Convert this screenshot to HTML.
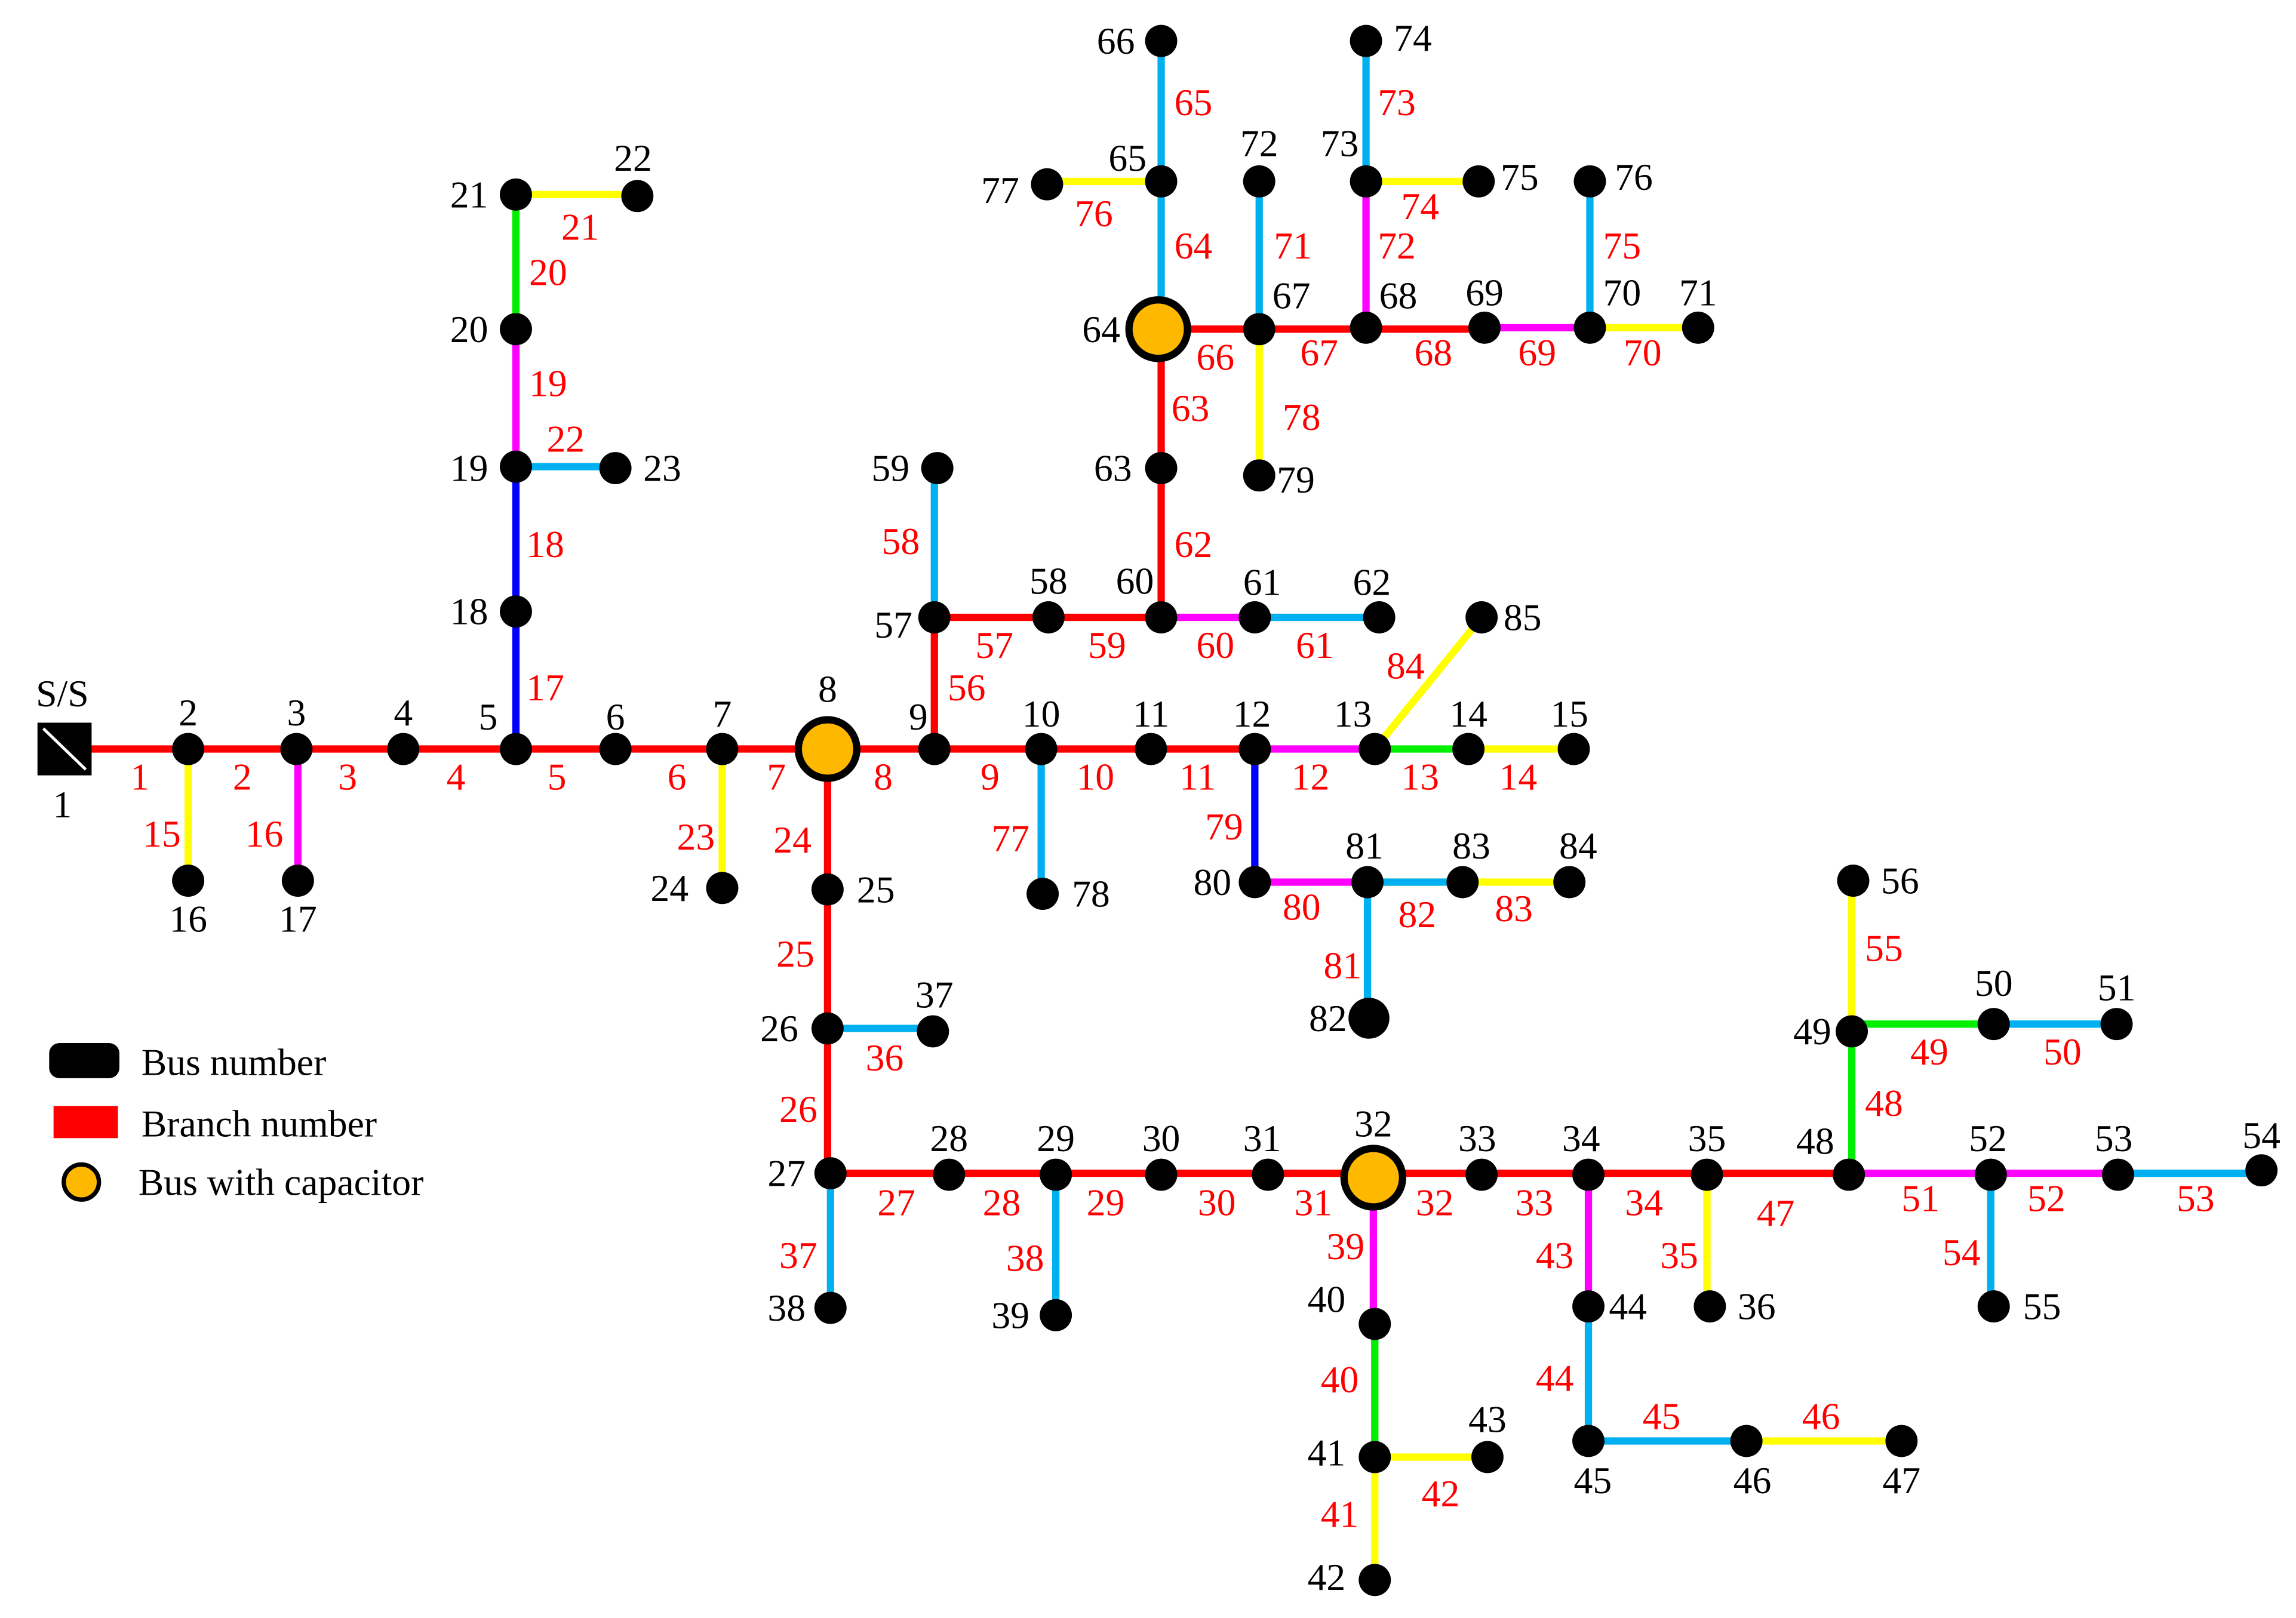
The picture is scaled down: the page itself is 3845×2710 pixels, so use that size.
<!DOCTYPE html>
<html><head><meta charset="utf-8"><style>html,body{margin:0;padding:0;background:#fff}svg{display:block}svg text{font-family:"Liberation Serif","DejaVu Serif",serif;font-size:26px}</style></head><body>
<svg width="3845" height="2710" viewBox="0 0 1568 1106" xmlns="http://www.w3.org/2000/svg">
<rect width="1568" height="1106" fill="#fff"/>
<g stroke-width="5" fill="none">
<g stroke="#ff0000">
<path d="M60 512H638"/><path d="M638 512H857"/>
<path d="M565 512V802H938H1263"/>
<path d="M638 512V422H793V225H860H1014"/>
</g>
<g stroke="#ff00ff">
<path d="M857 512H939"/><path d="M203 512V602"/><path d="M352 319V225"/><path d="M938 805V905"/><path d="M1085 803V893"/>
<path d="M1263 802H1447"/><path d="M793 422H857"/><path d="M1014 224H1086"/><path d="M933 224V124"/><path d="M857 603H934"/>
</g>
<g stroke="#00ee00">
<path d="M939 512H1003"/><path d="M352 225V133"/><path d="M939 905V996"/><path d="M1265 802V700H1362"/>
</g>
<g stroke="#ffff00">
<path d="M1003 512H1075"/><path d="M128 512V602"/><path d="M352 133H435"/><path d="M493 512V607"/><path d="M939 996V1080"/><path d="M939 996H1016"/>
<path d="M1193 985H1299"/><path d="M1166 803V893"/><path d="M1265 705V602"/><path d="M1086 224H1160"/><path d="M933 124H1010"/><path d="M793 124H715"/><path d="M860 225V325"/><path d="M934 603H1072"/><path d="M939 512L1012 422"/>
</g>
<g stroke="#0000ff"><path d="M352 512V319"/><path d="M857 512V603"/></g>
<g stroke="#00b0f0">
<path d="M352 319H420"/><path d="M565 703H637"/><path d="M567 802V894"/><path d="M721 803V899"/><path d="M1085 893V985H1193"/>
<path d="M1362 700H1446"/><path d="M1447 802H1545"/><path d="M1360 803V893"/><path d="M638 422V320"/><path d="M857 422H942"/>
<path d="M793 225V28"/><path d="M860 225V124"/><path d="M933 124V28"/><path d="M1086 224V124"/><path d="M711 512V611"/><path d="M934 603V696"/><path d="M934 603H999"/>
</g>
</g>
<rect x="25" y="494" width="37" height="36" fill="#000"/><path d="M29 498L58 526" stroke="#fff" stroke-width="2"/>
<g fill="#000">
<circle cx="128" cy="512" r="11"/><circle cx="202" cy="512" r="11"/><circle cx="275" cy="512" r="11"/><circle cx="352" cy="512" r="11"/><circle cx="420" cy="512" r="11"/><circle cx="493" cy="512" r="11"/>
<circle cx="638" cy="512" r="11"/><circle cx="711" cy="512" r="11"/><circle cx="786" cy="512" r="11"/><circle cx="857" cy="512" r="11"/><circle cx="939" cy="512" r="11"/><circle cx="1003" cy="512" r="11"/><circle cx="1075" cy="512" r="11"/>
<circle cx="128" cy="602" r="11"/><circle cx="203" cy="602" r="11"/><circle cx="352" cy="418" r="11"/><circle cx="352" cy="319" r="11"/><circle cx="352" cy="225" r="11"/><circle cx="352" cy="133" r="11"/><circle cx="435" cy="134" r="11"/><circle cx="420" cy="320" r="11"/>
<circle cx="493" cy="607" r="11"/><circle cx="565" cy="608" r="11"/><circle cx="565" cy="703" r="11"/><circle cx="567" cy="802" r="11"/><circle cx="648" cy="803" r="11"/><circle cx="721" cy="803" r="11"/><circle cx="793" cy="803" r="11"/><circle cx="866" cy="803" r="11"/>
<circle cx="1012" cy="803" r="11"/><circle cx="1085" cy="803" r="11"/><circle cx="1166" cy="803" r="11"/><circle cx="1168" cy="893" r="11"/><circle cx="637" cy="705" r="11"/><circle cx="567" cy="894" r="11"/><circle cx="721" cy="899" r="11"/>
<circle cx="939" cy="905" r="11"/><circle cx="939" cy="996" r="11"/><circle cx="939" cy="1080" r="11"/><circle cx="1016" cy="996" r="11"/><circle cx="1085" cy="893" r="11"/><circle cx="1085" cy="985" r="11"/><circle cx="1193" cy="985" r="11"/><circle cx="1299" cy="985" r="11"/>
<circle cx="1263" cy="803" r="11"/><circle cx="1265" cy="705" r="11"/><circle cx="1362" cy="700" r="11"/><circle cx="1446" cy="700" r="11"/><circle cx="1360" cy="803" r="11"/><circle cx="1447" cy="803" r="11"/><circle cx="1545" cy="800" r="11"/><circle cx="1362" cy="893" r="11"/><circle cx="1266" cy="602" r="11"/>
<circle cx="638" cy="422" r="11"/><circle cx="716" cy="422" r="11"/><circle cx="640" cy="320" r="11"/><circle cx="793" cy="422" r="11"/><circle cx="857" cy="422" r="11"/><circle cx="942" cy="422" r="11"/><circle cx="793" cy="320" r="11"/>
<circle cx="793" cy="124" r="11"/><circle cx="793" cy="28" r="11"/><circle cx="860" cy="225" r="11"/><circle cx="933" cy="224" r="11"/><circle cx="1014" cy="224" r="11"/><circle cx="1086" cy="224" r="11"/><circle cx="1160" cy="224" r="11"/>
<circle cx="860" cy="124" r="11"/><circle cx="933" cy="124" r="11"/><circle cx="933" cy="28" r="11"/><circle cx="1010" cy="124" r="11"/><circle cx="1086" cy="124" r="11"/><circle cx="715" cy="126" r="11"/>
<circle cx="712" cy="611" r="11"/><circle cx="860" cy="325" r="11"/><circle cx="857" cy="603" r="11"/><circle cx="934" cy="603" r="11"/><circle cx="935" cy="696" r="14"/><circle cx="999" cy="603" r="11"/><circle cx="1072" cy="603" r="11"/><circle cx="1012" cy="422" r="11"/>
</g>
<g fill="#ffb800" stroke="#000" stroke-width="5">
<circle cx="565" cy="512" r="20"/><circle cx="938" cy="805" r="20"/><circle cx="791" cy="225" r="20"/>
</g>
<g fill="#000" text-anchor="middle" dominant-baseline="central">
<text x="42" y="474">S/S</text><text x="42" y="550">1</text>
<text x="128" y="487">2</text><text x="202" y="487">3</text><text x="275" y="487">4</text><text x="333" y="490">5</text><text x="420" y="490">6</text><text x="493" y="488">7</text><text x="565" y="471">8</text>
<text x="627" y="490">9</text><text x="711" y="488">10</text><text x="786" y="488">11</text><text x="855" y="488">12</text><text x="924" y="488">13</text><text x="1003" y="488">14</text><text x="1072" y="488">15</text>
<text x="128" y="628">16</text><text x="203" y="628">17</text><text x="320" y="418">18</text><text x="320" y="320">19</text><text x="320" y="225">20</text><text x="320" y="133">21</text><text x="432" y="108">22</text><text x="452" y="320">23</text>
<text x="457" y="607">24</text><text x="598" y="608">25</text><text x="532" y="703">26</text><text x="537" y="802">27</text><text x="648" y="778">28</text><text x="721" y="778">29</text><text x="793" y="778">30</text><text x="862" y="778">31</text><text x="938" y="768">32</text>
<text x="1009" y="778">33</text><text x="1080" y="778">34</text><text x="1166" y="778">35</text><text x="1200" y="893">36</text><text x="638" y="680">37</text><text x="537" y="894">38</text><text x="690" y="899">39</text>
<text x="906" y="888">40</text><text x="906" y="993">41</text><text x="906" y="1078">42</text><text x="1016" y="970">43</text><text x="1112" y="893">44</text><text x="1088" y="1012">45</text><text x="1197" y="1012">46</text><text x="1299" y="1012">47</text>
<text x="1240" y="780">48</text><text x="1238" y="705">49</text><text x="1362" y="672">50</text><text x="1446" y="675">51</text><text x="1358" y="778">52</text><text x="1444" y="778">53</text><text x="1545" y="776">54</text><text x="1395" y="893">55</text><text x="1298" y="602">56</text>
<text x="610" y="427">57</text><text x="716" y="397">58</text><text x="608" y="320">59</text><text x="775" y="397">60</text><text x="862" y="398">61</text><text x="937" y="398">62</text><text x="760" y="320">63</text><text x="752" y="225">64</text>
<text x="770" y="108">65</text><text x="762" y="28">66</text><text x="882" y="202">67</text><text x="955" y="202">68</text><text x="1014" y="200">69</text><text x="1108" y="200">70</text><text x="1160" y="200">71</text>
<text x="860" y="98">72</text><text x="915" y="98">73</text><text x="965" y="26">74</text><text x="1038" y="121">75</text><text x="1116" y="121">76</text><text x="683" y="130">77</text><text x="745" y="611">78</text><text x="885" y="328">79</text>
<text x="828" y="603">80</text><text x="932" y="578">81</text><text x="907" y="696">82</text><text x="1005" y="578">83</text><text x="1078" y="578">84</text><text x="1040" y="422">85</text>
</g>
<g fill="#ff0000" text-anchor="middle" dominant-baseline="central">
<text x="95" y="531">1</text><text x="165" y="531">2</text><text x="237" y="531">3</text><text x="311" y="531">4</text><text x="380" y="531">5</text><text x="462" y="531">6</text><text x="530" y="531">7</text><text x="603" y="531">8</text>
<text x="676" y="531">9</text><text x="748" y="531">10</text><text x="818" y="531">11</text><text x="895" y="531">12</text><text x="970" y="531">13</text><text x="1037" y="531">14</text>
<text x="110" y="570">15</text><text x="180" y="570">16</text><text x="372" y="470">17</text><text x="372" y="372">18</text><text x="374" y="262">19</text><text x="374" y="186">20</text><text x="396" y="155">21</text><text x="386" y="300">22</text>
<text x="475" y="572">23</text><text x="541" y="574">24</text><text x="543" y="652">25</text><text x="545" y="758">26</text><text x="612" y="822">27</text><text x="684" y="822">28</text><text x="755" y="822">29</text><text x="831" y="822">30</text><text x="897" y="822">31</text>
<text x="980" y="822">32</text><text x="1048" y="822">33</text><text x="1123" y="822">34</text><text x="1147" y="858">35</text><text x="604" y="723">36</text><text x="545" y="858">37</text><text x="700" y="860">38</text><text x="919" y="852">39</text>
<text x="915" y="943">40</text><text x="915" y="1035">41</text><text x="984" y="1021">42</text><text x="1062" y="858">43</text><text x="1062" y="942">44</text><text x="1135" y="968">45</text><text x="1244" y="968">46</text><text x="1213" y="829">47</text>
<text x="1287" y="754">48</text><text x="1318" y="719">49</text><text x="1409" y="719">50</text><text x="1312" y="819">51</text><text x="1398" y="819">52</text><text x="1500" y="819">53</text><text x="1340" y="856">54</text><text x="1287" y="648">55</text>
<text x="660" y="470">56</text><text x="679" y="441">57</text><text x="615" y="370">58</text><text x="756" y="441">59</text><text x="830" y="441">60</text><text x="898" y="441">61</text><text x="815" y="372">62</text><text x="813" y="279">63</text>
<text x="815" y="168">64</text><text x="815" y="70">65</text><text x="830" y="244">66</text><text x="901" y="241">67</text><text x="979" y="241">68</text><text x="1050" y="241">69</text><text x="1122" y="241">70</text>
<text x="883" y="168">71</text><text x="954" y="168">72</text><text x="954" y="70">73</text><text x="970" y="141">74</text><text x="1108" y="168">75</text><text x="747" y="146">76</text><text x="690" y="573">77</text><text x="889" y="285">78</text>
<text x="836" y="565">79</text><text x="889" y="620">80</text><text x="917" y="660">81</text><text x="968" y="625">82</text><text x="1034" y="621">83</text><text x="960" y="455">84</text>
</g>
<rect x="33" y="713" width="48" height="24" rx="7" fill="#000"/>
<rect x="36" y="756" width="44" height="22" fill="#ff0000"/>
<circle cx="55" cy="808" r="12" fill="#ffb800" stroke="#000" stroke-width="3"/>
<g fill="#000" dominant-baseline="central">
<text x="96" y="726">Bus number</text><text x="96" y="768">Branch number</text><text x="94" y="808">Bus with capacitor</text>
</g>
</svg>
</body></html>
